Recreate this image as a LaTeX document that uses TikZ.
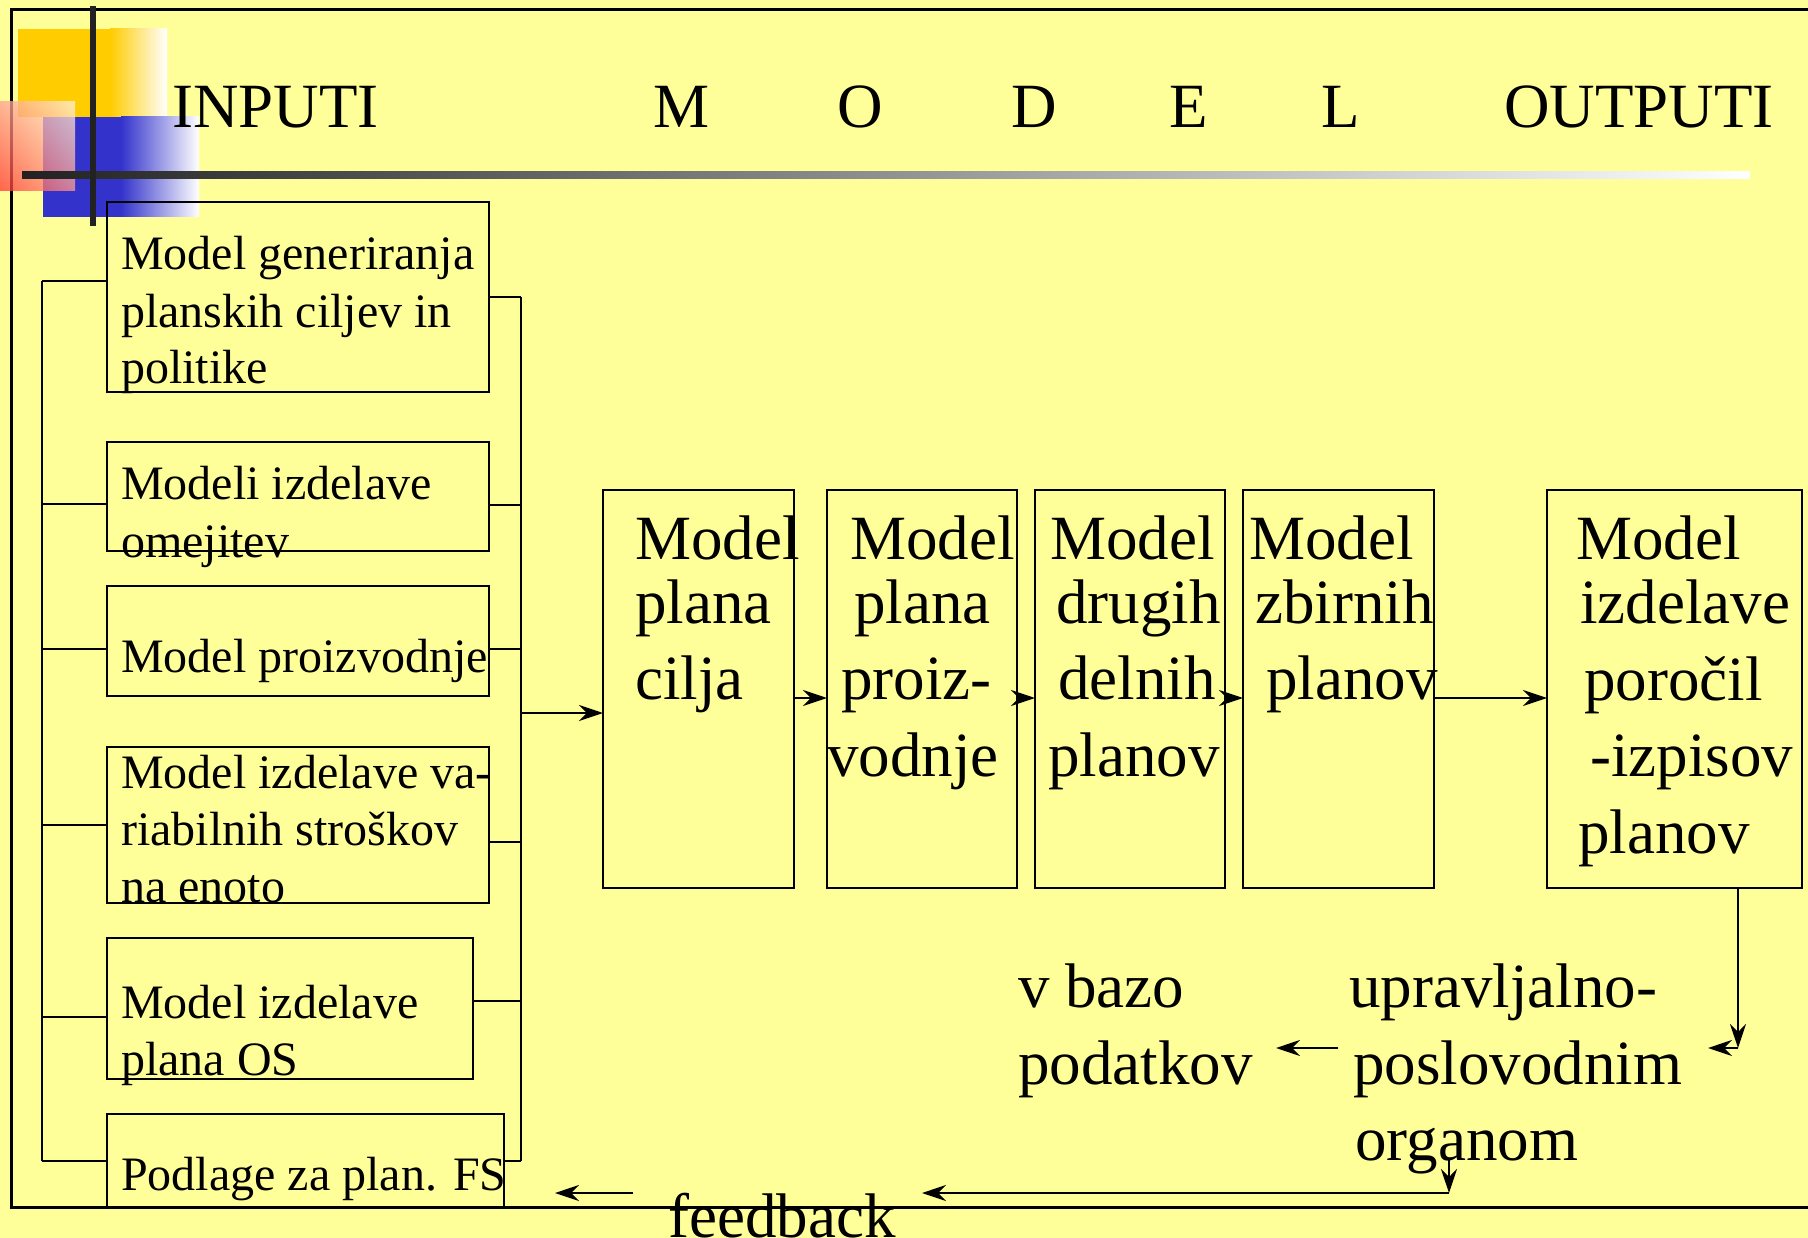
\documentclass[tikz,border=0pt]{standalone}
\usepackage{fontspec}
\setmainfont{Liberation Serif}
\usetikzlibrary{arrows.meta,shadings}
\definecolor{bg}{HTML}{FFFF99}
\definecolor{yel}{HTML}{FFCC00}
\definecolor{blu}{HTML}{3333CC}
\definecolor{redd}{HTML}{FF3333}
\definecolor{pale}{HTML}{FFF4DC}
\definecolor{dk}{HTML}{222222}
\tikzset{
  box/.style={draw=black, line width=2.5pt, rectangle, inner sep=0pt, outer sep=0pt},
  conn/.style={draw=black, line width=2.2pt},
  arr/.style={conn, -{Stealth[length=24pt, width=16pt, inset=8pt]}},
  lt/.style={anchor=base west, inner sep=0pt, font=\fontsize{48}{57}\selectfont},
  mt/.style={anchor=base west, inner sep=0pt, font=\fontsize{63}{75}\selectfont},
}
\begin{document}
\begin{tikzpicture}[x=1pt, y=-1pt]
\useasboundingbox (0,0) rectangle (1808,1238);
\clip (0,0) rectangle (1808,1238);
\fill[bg] (0,0) rectangle (1808,1238);
% frame
\draw[line width=3pt] (1820,10) -- (11,10) -- (11,1207) -- (1820,1207);
% decoration
\fill[yel] (18,29) rectangle (110,117);
\shade[left color=yel, right color=white] (110,29) rectangle (167,117);
\fill[blu] (43,117) rectangle (121,217);
\shade[left color=blu, right color=white] (121,117) rectangle (199,217);
\shade[opacity=0.75, upper left=redd!45!pale, upper right=pale, lower left=redd, lower right=redd!45!pale] (0,102) rectangle (75,191);
\shade[left color=dk, right color=white] (22,172) rectangle (1750,179);
\fill[dk] (90,6) rectangle (96,226);
% title
\node[mt] (tin) at (172,128) {INPUTI};
\node[mt] (tm) at (653,128) {M};
\node[mt] (to) at (837,128) {O};
\node[mt] (td) at (1011,128) {D};
\node[mt] (te) at (1169,128) {E};
\node[mt] (tl) at (1321,128) {L};
\node[mt] (tout) at (1504,128) {OUTPUTI};
% left boxes
\node[box, minimum width=382pt, minimum height=190pt] (b1) at (298,297) {};
\node[box, minimum width=382pt, minimum height=109pt] (b2) at (298,496.5) {};
\node[box, minimum width=382pt, minimum height=110pt] (b3) at (298,641) {};
\node[box, minimum width=382pt, minimum height=156pt] (b4) at (298,825) {};
\node[box, minimum width=366pt, minimum height=141pt] (b5) at (290,1008.5) {};
\node[box, minimum width=397pt, minimum height=93pt] (b6) at (305.5,1160.5) {};
\node[lt] (b1a) at (121,270) {Model generiranja};
\node[lt] (b1b) at (121,328) {planskih ciljev in};
\node[lt] (b1c) at (121,384) {politike};
\node[lt] (b2a) at (121,500) {Modeli izdelave};
\node[lt] (b2b) at (121,557) {omejitev};
\node[lt] (b3a) at (121,672) {Model proizvodnje};
\node[lt] (b4a) at (121,788) {Model izdelave va-};
\node[lt] (b4b) at (121,845) {riabilnih stroškov};
\node[lt] (b4c) at (121,902) {na enoto};
\node[lt] (b5a) at (121,1018) {Model izdelave};
\node[lt] (b5b) at (121,1075) {plana OS};
\node[lt] (b6a) at (121,1190) {Podlage za plan. FS};
% buses
\coordinate (L1) at (42,281);
\coordinate (L2) at (42,504);
\coordinate (L3) at (42,649);
\coordinate (L4) at (42,825);
\coordinate (L5) at (42,1017);
\coordinate (L6) at (42,1161);
\coordinate (R1) at (521,297);
\coordinate (R2) at (521,505);
\coordinate (R3) at (521,649);
\coordinate (R4) at (521,842);
\coordinate (R5) at (521,1001);
\coordinate (R6) at (521,1161);
\coordinate (R0) at (521,713);
\draw[conn] (L1) -- (L6);
\draw[conn] (R1) -- (R6);
\draw[conn] (L1) -- (L1 -| b1.west);
\draw[conn] (L2) -- (L2 -| b2.west);
\draw[conn] (L3) -- (L3 -| b3.west);
\draw[conn] (L4) -- (L4 -| b4.west);
\draw[conn] (L5) -- (L5 -| b5.west);
\draw[conn] (L6) -- (L6 -| b6.west);
\draw[conn] (R1 -| b1.east) -- (R1);
\draw[conn] (R2 -| b2.east) -- (R2);
\draw[conn] (R3 -| b3.east) -- (R3);
\draw[conn] (R4 -| b4.east) -- (R4);
\draw[conn] (R5 -| b5.east) -- (R5);
\draw[conn] (R6 -| b6.east) -- (R6);
% middle boxes
\node[box, minimum width=191pt, minimum height=398pt] (b7) at (698.5,689) {};
\node[box, minimum width=190pt, minimum height=398pt] (b8) at (922,689) {};
\node[box, minimum width=190pt, minimum height=398pt] (b9) at (1130,689) {};
\node[box, minimum width=191pt, minimum height=398pt] (b10) at (1338.5,689) {};
\node[box, minimum width=255pt, minimum height=398pt] (b11) at (1674.5,689) {};
\draw[arr] (R0) -- (R0 -| b7.west);
\coordinate (mid) at (0,698);
\draw[arr] (mid -| b7.east) -- (mid -| b8.west);
\draw[arr] (mid -| b8.east) -- (mid -| b9.west);
\draw[arr] (mid -| b9.east) -- (mid -| b10.west);
\draw[arr] (mid -| b10.east) -- (mid -| b11.west);
\node[mt] (b7a) at (635,559) {Model};
\node[mt] (b7b) at (635,623) {plana};
\node[mt] (b7c) at (635,699) {cilja};
\node[mt] (b8a) at (850,559) {Model};
\node[mt] (b8b) at (854,623) {plana};
\node[mt] (b8c) at (841,699) {proiz-};
\node[mt] (b8d) at (827,776) {vodnje};
\node[mt] (b9a) at (1050,559) {Model};
\node[mt] (b9b) at (1056,623) {drugih};
\node[mt] (b9c) at (1058,699) {delnih};
\node[mt] (b9d) at (1048,776) {planov};
\node[mt] (b10a) at (1249,559) {Model};
\node[mt] (b10b) at (1255,623) {zbirnih};
\node[mt] (b10c) at (1266,699) {planov};
\node[mt] (b11a) at (1576,559) {Model};
\node[mt] (b11b) at (1580,623) {izdelave};
\node[mt] (b11c) at (1584,700) {poročil};
\node[mt] (b11d) at (1590,776) {-izpisov};
\node[mt] (b11e) at (1578,853) {planov};
% bottom
\node[mt] (va) at (1018,1007) {v bazo};
\node[mt] (vb) at (1018,1084) {podatkov};
\node[mt] (ua) at (1349,1007) {upravljalno-};
\node[mt] (ub) at (1353,1084) {poslovodnim};
\node[mt] (uc) at (1355,1160) {organom};
\node[mt] (fb) at (668,1237) {feedback};
\coordinate (d1) at (1738,1048);
\coordinate (d2) at (1708,1048);
\coordinate (a1) at (1338,1048);
\coordinate (a2) at (1276,1048);
\coordinate (o1) at (1449,1158);
\coordinate (o2) at (1449,1193);
\coordinate (f1) at (922,1193);
\coordinate (f2) at (633,1193);
\coordinate (f3) at (555,1193);
\draw[arr] (b11.south -| d1) -- (d1);
\draw[arr] (d1) -- (d2);
\draw[arr] (a1) -- (a2);
\draw[arr] (o1) -- (o2);
\draw[arr] (o2) -- (f1);
\draw[arr] (f2) -- (f3);
\end{tikzpicture}
\end{document}
